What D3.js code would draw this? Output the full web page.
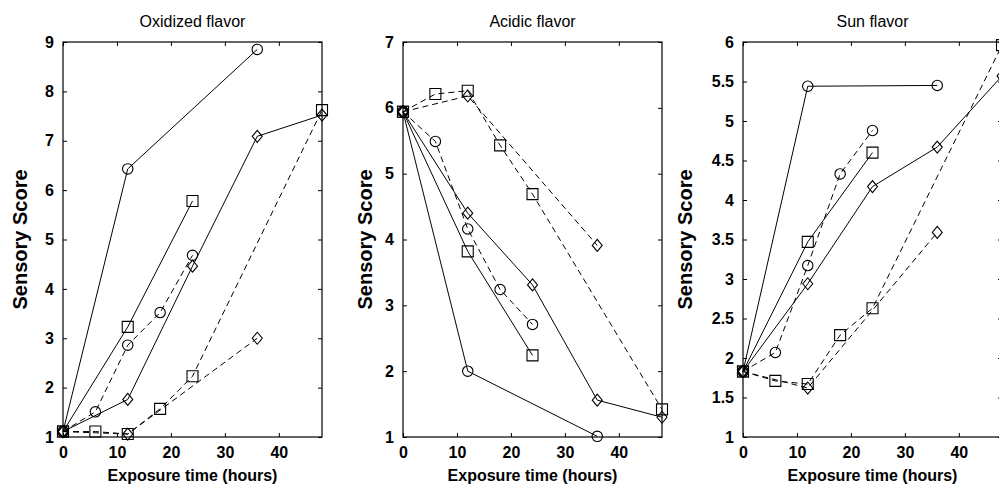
<!DOCTYPE html>
<html><head><meta charset="utf-8">
<script src="https://cdn.jsdelivr.net/npm/d3@7"></script>
<style>
html,body{margin:0;padding:0;background:#fff;overflow:hidden;}
text{font-family:"Liberation Sans",Arial,sans-serif;fill:#000;}
</style></head>
<body>
<svg id="chart" width="999" height="485"></svg>
<script>
// ---------- data ----------
const panelTitles = ["Oxidized flavor", "Acidic flavor", "Sun flavor"];
const xLabel = "Exposure time (hours)";
const yLabel = "Sensory Score";
const xTicks = [0, 10, 20, 30, 40];
const yTicksOxidized = [1, 2, 3, 4, 5, 6, 7, 8, 9];
const yTicksAcidic = [1, 2, 3, 4, 5, 6, 7];
const yTicksSun = [1, 1.5, 2, 2.5, 3, 3.5, 4, 4.5, 5, 5.5, 6];

// exposure times of each series (hours)
const xSolidCircle = [0, 12, 36];
const xSolidSquare = [0, 12, 24];
const xSolidDiamond = [0, 12, 24, 36, 48];
const xDashedCircle = [0, 6, 12, 18, 24];
const xDashedSquare = [0, 6, 12, 18, 24, 48];
const xDashedDiamond = [0, 12, 36];

// Oxidized flavor
const oxSolidCircle = [1.11, 6.43, 8.85];
const oxSolidSquare = [1.11, 3.23, 5.78];
const oxSolidDiamond = [1.11, 1.76, 4.46, 7.09, 7.52];
const oxDashedCircle = [1.11, 1.51, 2.86, 3.52, 4.68];
const oxDashedSquare = [1.11, 1.11, 1.06, 1.57, 2.23, 7.62];
const oxDashedDiamond = [1.11, 1.06, 3.0];

// Acidic flavor
const acSolidCircle = [5.94, 2.0, 1.01];
const acSolidSquare = [5.94, 3.82, 2.24];
const acSolidDiamond = [5.94, 4.4, 3.31, 1.56, 1.3];
const acDashedCircle = [5.94, 5.49, 4.16, 3.24, 2.71];
const acDashedSquare = [5.94, 6.21, 6.26, 5.43, 4.69, 1.42];
const acDashedDiamond = [5.94, 6.18, 3.91];

// Sun flavor
const sunSolidCircle = [1.83, 5.44, 5.45];
const sunSolidSquare = [1.83, 3.47, 4.6];
const sunSolidDiamond = [1.83, 2.94, 4.17, 4.67, 5.57];
const sunDashedCircle = [1.83, 2.07, 3.17, 4.33, 4.88];
const sunDashedSquare = [1.83, 1.71, 1.67, 2.29, 2.63, 5.96];
const sunDashedDiamond = [1.83, 1.62, 3.59];

// ---------- build ----------
function seriesSet(sc, ss, sd, dc, ds, dd) {
  return [
    {x: xSolidCircle, y: sc, marker: "circle", dashed: false},
    {x: xSolidSquare, y: ss, marker: "square", dashed: false},
    {x: xSolidDiamond, y: sd, marker: "diamond", dashed: false},
    {x: xDashedCircle, y: dc, marker: "circle", dashed: true},
    {x: xDashedSquare, y: ds, marker: "square", dashed: true},
    {x: xDashedDiamond, y: dd, marker: "diamond", dashed: true}
  ];
}
const panels = [
  {title: panelTitles[0], yTicks: yTicksOxidized, yFmt: d3.format("d"),
   series: seriesSet(oxSolidCircle, oxSolidSquare, oxSolidDiamond, oxDashedCircle, oxDashedSquare, oxDashedDiamond)},
  {title: panelTitles[1], yTicks: yTicksAcidic, yFmt: d3.format("d"),
   series: seriesSet(acSolidCircle, acSolidSquare, acSolidDiamond, acDashedCircle, acDashedSquare, acDashedDiamond)},
  {title: panelTitles[2], yTicks: yTicksSun, yFmt: d => String(d),
   series: seriesSet(sunSolidCircle, sunSolidSquare, sunSolidDiamond, sunDashedCircle, sunDashedSquare, sunDashedDiamond)}
];

const svg = d3.select("#chart");
const lefts = [63, 403, 743];
const yLabelOffsets = [36, 31, 51];
const pw = 259, plotTop = 42, plotBottom = 437;
const tickLen = 4;

const circleSym = d3.symbol().type(d3.symbolCircle).size(Math.PI * 5.2 * 5.2);

function markerPath(type) {
  if (type === "circle") return circleSym();
  if (type === "square") return "M-5.5,-5.5H5.5V5.5H-5.5Z";
  return "M0,-6L5,0L0,6L-5,0Z";
}

panels.forEach((p, i) => {
  const L = lefts[i];
  const x = d3.scaleLinear().domain([0, 48]).range([L, L + pw]);
  const yMin = p.yTicks[0], yMax = p.yTicks[p.yTicks.length - 1];
  const y = d3.scaleLinear().domain([yMin, yMax]).range([plotBottom, plotTop]);
  const g = svg.append("g");

  // frame
  g.append("rect").attr("x", L).attr("y", plotTop).attr("width", pw).attr("height", plotBottom - plotTop)
    .attr("fill", "none").attr("stroke", "#000").attr("stroke-width", 1.2);

  // axes (ticks pointing inward on all sides)
  const axB = g.append("g").attr("transform", `translate(0,${plotBottom})`)
    .call(d3.axisBottom(x).tickValues(xTicks).tickSizeInner(-tickLen).tickSizeOuter(0).tickPadding(10).tickFormat(d3.format("d")));
  const axT = g.append("g").attr("transform", `translate(0,${plotTop})`)
    .call(d3.axisTop(x).tickValues(xTicks).tickSizeInner(-tickLen).tickSizeOuter(0).tickFormat(""));
  const axL = g.append("g").attr("transform", `translate(${L},0)`)
    .call(d3.axisLeft(y).tickValues(p.yTicks).tickSizeInner(-tickLen).tickSizeOuter(0).tickPadding(9).tickFormat(p.yFmt));
  const axR = g.append("g").attr("transform", `translate(${L + pw},0)`)
    .call(d3.axisRight(y).tickValues(p.yTicks).tickSizeInner(-tickLen).tickSizeOuter(0).tickFormat(""));
  [axB, axT, axL, axR].forEach(a => {
    a.select(".domain").remove();
    a.selectAll(".tick line").attr("stroke", "#000");
  });
  [axB, axL].forEach(a => a.selectAll(".tick text")
    .style("font-family", '"Liberation Sans",Arial,sans-serif')
    .style("font-size", "16px").style("font-weight", "bold").attr("fill", "#000"));

  // title
  g.append("text").attr("x", L + pw / 2).attr("y", 27).attr("text-anchor", "middle")
    .style("font-size", "16px").text(p.title);

  // x label
  g.append("text").attr("x", L + pw / 2).attr("y", 481).attr("text-anchor", "middle")
    .style("font-size", "16px").style("font-weight", "bold").text(xLabel);

  // y label
  const yc = (plotTop + plotBottom) / 2;
  const lx = L - yLabelOffsets[i];
  g.append("text").attr("transform", `translate(${lx},${yc}) rotate(-90)`)
    .attr("text-anchor", "middle").style("font-size", "20px").style("font-weight", "bold").text(yLabel);

  // lines
  const line = d3.line().x(d => x(d[0])).y(d => y(d[1]));
  p.series.forEach(s => {
    const pts = s.x.map((xv, k) => [xv, s.y[k]]);
    g.append("path").attr("d", line(pts)).attr("fill", "none").attr("stroke", "#000")
      .attr("stroke-width", 1).attr("stroke-dasharray", s.dashed ? "6,4" : null);
  });
  // markers
  p.series.forEach(s => {
    const pts = s.x.map((xv, k) => [xv, s.y[k]]);
    g.selectAll(null).data(pts).enter().append("path")
      .attr("d", markerPath(s.marker))
      .attr("transform", d => `translate(${x(d[0])},${y(d[1])})`)
      .attr("fill", "none").attr("stroke", "#000").attr("stroke-width", 1.1);
  });
});
</script>
</body></html>
